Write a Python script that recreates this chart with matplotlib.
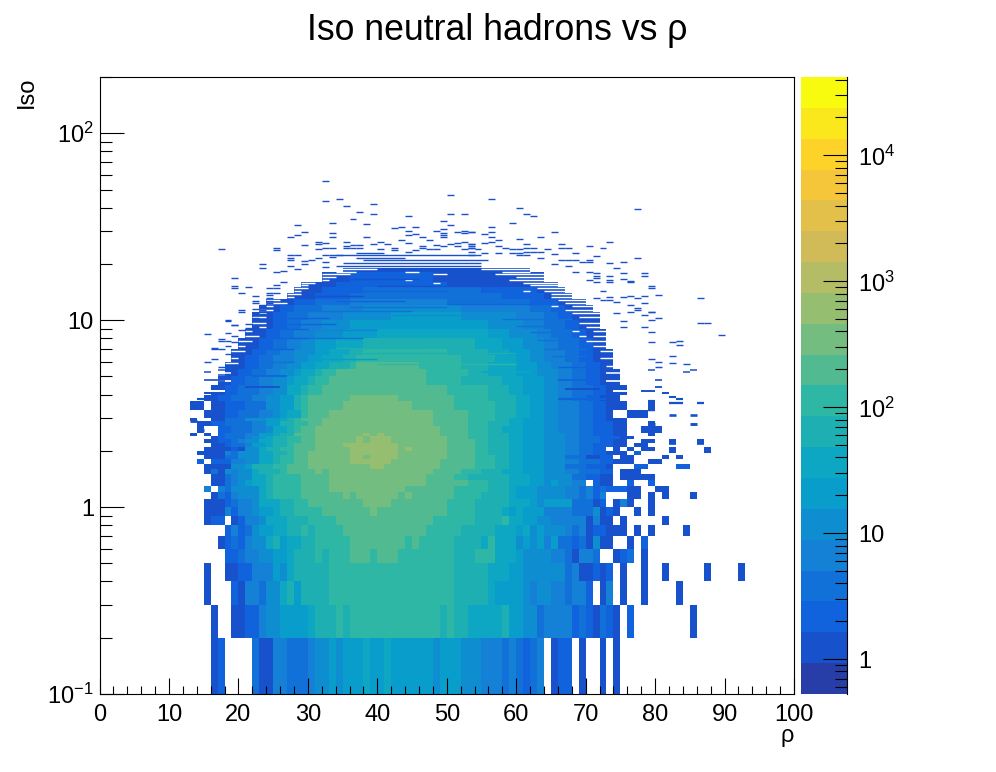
#!/usr/bin/env python
# -*- coding: utf-8 -*-

import numpy as np
import matplotlib
matplotlib.use("Agg")
import matplotlib.pyplot as plt
from matplotlib.colors import LinearSegmentedColormap, ListedColormap, LogNorm
from matplotlib.ticker import FixedLocator, NullFormatter

plt.rcParams['font.family'] = ['Liberation Sans', 'DejaVu Sans']
plt.rcParams['mathtext.fontset'] = 'custom'
plt.rcParams['mathtext.rm'] = 'Liberation Sans'
plt.rcParams['mathtext.default'] = 'rm'

# root bird palette
bird_red = [0.2082, 0.0592, 0.0780, 0.0232, 0.1802, 0.5301, 0.8186, 0.9956, 0.9764]
bird_green = [0.1664, 0.3599, 0.5041, 0.6419, 0.7178, 0.7492, 0.7328, 0.7862, 0.9832]
bird_blue = [0.5293, 0.8684, 0.8385, 0.7914, 0.6425, 0.4662, 0.3499, 0.1968, 0.0539]

z_min = 0.53
z_max = 41900
n_levels = 20

# lower edge of each row of bins, in Iso
iso_low = [0.1, 0.2, 0.3, 0.4, 0.5, 0.6, 0.7, 0.8, 0.9, 1.0, 1.1, 1.2, 1.3, 1.4, 1.5, 1.6,
           1.7, 1.8, 1.9, 2.0, 2.1, 2.2, 2.3, 2.4, 2.5, 2.7, 2.9, 3.0, 3.3, 3.7, 4.0, 4.5,
           5.0, 5.5, 6.0, 6.5, 7.0, 8.0, 9.0, 10, 11, 12, 13, 14, 15, 16, 18]
iso_top = 19

# first column, then colour level:end column (level 0 is an empty stretch)
rows = [
    "16 1:17 2:18 0:22 3:23 1:25 4:27 3:30 4:31 5:33 6:34 5:35 6:38 7:39 6:41 7:42 6:48 5:49 6:52 5:55 4:58 3:59 4:60 3:61 2:62 3:63 4:64 0:65 1:66 2:68 0:69 1:70 0:72 1:73 0:74 1:75",
    "16 1:17 0:19 1:21 2:23 4:24 5:26 6:30 7:31 8:34 9:35 8:36 9:49 8:50 9:51 8:53 7:58 8:59 6:61 5:63 3:64 4:68 2:69 3:70 2:71 1:72 3:73 2:74 1:75 0:76 2:77 0:85 1:86",
    "15 1:16 0:19 2:20 1:21 4:23 3:24 5:26 7:27 8:28 6:29 8:33 9:51 8:56 7:57 6:61 5:62 4:63 5:65 4:67 3:68 4:70 2:71 0:72 1:73 4:74 0:75 1:76 0:78 1:79 0:83 1:84",
    "15 1:16 0:18 1:20 2:22 4:25 6:26 5:27 7:28 8:33 9:51 8:56 7:59 6:61 5:67 3:68 4:69 1:71 2:72 1:73 2:74 0:75 1:76 0:78 1:79 0:81 1:82 0:87 1:88 0:92 1:93",
    "18 2:20 3:21 4:23 5:25 6:27 7:28 8:31 9:32 8:33 9:36 10:39 9:40 10:43 9:51 8:54 9:57 7:60 6:61 5:65 4:67 3:68 1:69 4:71 3:72 0:74 1:75 2:76 3:77 0:78 1:79",
    "17 1:18 2:19 3:20 2:21 4:22 5:24 7:25 8:26 6:27 7:29 8:31 9:36 10:44 9:45 10:46 9:51 8:55 7:56 9:57 7:60 5:61 6:62 5:63 6:64 4:65 6:66 3:68 2:69 3:70 1:71 5:72 1:74 0:76 1:77 0:78 2:79",
    "18 2:19 4:20 2:21 3:22 5:23 6:25 7:27 8:29 9:30 8:31 9:35 10:47 9:52 8:57 7:60 6:61 7:62 5:63 6:64 5:67 4:68 3:69 4:70 1:71 2:73 1:76 0:77 1:78 0:79 1:80 0:84 1:85",
    "15 1:16 2:18 0:19 1:20 2:21 4:23 5:24 7:27 8:30 9:34 10:48 9:54 8:58 9:59 7:61 6:63 5:65 4:70 1:71 4:72 1:74 0:75 1:76 0:81 1:82",
    "15 1:18 4:19 2:20 4:22 5:23 6:25 7:26 8:28 9:32 10:39 11:40 10:50 9:54 8:58 7:59 6:60 7:61 6:64 4:68 3:71 5:72 1:73 2:74 1:75 0:77 1:78 0:79 1:80",
    "15 1:18 2:19 3:20 4:22 5:23 7:26 8:28 9:30 10:38 11:42 10:50 9:54 8:59 7:62 6:63 5:64 6:68 3:71 1:72 2:73 0:74 1:75 4:76 1:77 0:79 1:80",
    "16 1:17 3:18 2:19 4:20 5:23 7:24 8:25 9:29 10:35 11:36 10:37 11:43 10:44 11:45 10:51 9:55 8:59 7:60 6:63 5:67 4:69 3:70 4:71 2:72 4:73 0:76 1:78 0:79 1:80 0:81 1:82 0:85 1:86",
    "15 4:16 0:17 4:18 3:19 5:23 7:24 8:25 9:29 10:33 11:44 10:51 9:56 8:59 7:60 6:63 5:67 4:69 3:70 4:71 2:72 3:73 2:76 1:78 0:80 1:82",
    "16 1:18 3:19 4:20 5:21 6:22 7:24 8:25 9:29 10:33 11:47 10:53 9:56 8:59 7:62 6:64 5:65 6:66 5:68 4:70 0:71 2:72 1:74 0:76 2:77 0:79 2:80",
    "16 1:18 3:19 4:20 5:22 7:24 8:25 9:29 10:33 11:47 10:51 9:53 8:59 7:62 6:64 5:68 3:70 2:72 1:74 0:75 1:80",
    "15 1:16 3:17 1:18 5:19 4:20 5:22 7:23 8:26 9:27 10:31 11:32 10:33 11:48 10:52 9:55 8:58 7:61 6:64 5:67 4:69 3:72 2:74 0:75 1:78",
    "15 1:19 5:21 6:22 8:25 9:27 10:30 11:39 12:41 11:49 10:54 9:57 8:59 7:61 6:64 5:67 3:70 2:73 1:74 0:77 2:79 0:83 2:85",
    "14 2:15 0:16 2:19 4:21 5:23 7:25 8:26 9:28 10:30 11:36 12:42 11:49 10:54 9:57 8:59 7:61 6:64 5:67 4:69 3:72 2:74 1:77 0:79 1:81",
    "15 1:18 3:20 5:23 7:25 8:26 9:28 10:30 11:36 12:38 11:39 12:43 11:50 10:54 9:57 8:59 7:61 6:64 5:67 3:70 1:72 2:74 0:75 1:77 0:81 1:82 0:83 1:84",
    "14 1:18 4:19 3:20 5:23 7:25 8:27 9:28 10:30 11:36 12:43 11:50 10:54 9:56 8:59 7:61 6:64 5:67 4:69 3:71 2:73 1:76 0:77 2:78",
    "15 1:19 2:20 1:21 5:23 7:24 8:26 9:28 10:31 11:36 12:43 11:44 12:45 11:50 10:54 9:56 8:59 7:61 6:64 5:67 4:69 3:71 2:73 0:74 1:75 0:76 1:77 0:78 1:80 0:82 1:83 0:87 1:88",
    "16 1:18 2:19 3:21 4:22 6:24 7:25 8:27 9:28 10:31 11:35 12:43 11:50 10:54 9:56 8:59 7:61 6:64 5:67 4:69 3:71 2:74 1:76 0:77 1:79",
    "15 1:17 2:19 3:20 4:21 5:23 7:25 8:27 9:29 10:31 11:37 12:38 11:39 12:42 11:50 10:54 9:56 8:59 7:61 6:64 5:67 4:69 3:72 2:74 1:76 0:78 1:80 0:82 1:83 0:86 1:87",
    "16 1:17 2:18 3:21 4:22 5:23 6:24 7:25 8:27 9:29 10:31 11:37 12:38 11:39 12:42 11:50 10:53 9:56 8:59 7:61 6:64 5:67 4:69 3:72 2:75 1:77",
    "13 1:14 0:15 1:16 0:17 2:18 3:21 4:23 6:25 7:26 8:28 10:31 11:38 12:39 11:40 12:41 11:49 10:53 9:56 8:59 7:61 6:64 5:67 4:69 3:71 2:74 1:76 0:79 1:80",
    "14 1:15 0:17 2:19 3:22 4:24 5:25 7:27 8:28 9:29 10:31 11:49 10:53 9:56 8:58 7:61 6:64 5:66 4:69 3:71 2:74 1:76 0:78 1:81",
    "14 1:16 2:18 3:22 4:24 6:26 8:28 9:30 10:32 11:48 10:53 9:56 8:59 7:61 6:64 5:66 4:69 3:71 2:74 1:76 0:79 1:80",
    "13 1:14 0:16 1:18 3:21 5:24 6:26 7:27 8:28 9:29 10:32 11:48 10:53 9:57 8:59 7:61 6:64 5:66 4:69 3:71 2:73 1:76",
    "15 1:18 2:20 3:23 4:25 5:26 6:27 7:29 9:30 10:33 11:48 10:53 9:57 8:60 7:62 6:64 5:66 4:69 3:71 2:73 1:74 0:76 1:79",
    "13 1:15 0:16 1:18 2:21 3:24 5:26 6:28 8:29 9:30 10:35 11:45 10:51 9:57 8:60 7:62 6:64 5:66 4:69 3:71 2:73 1:76 0:79 1:80",
    "15 1:17 2:19 3:22 4:24 5:26 6:28 8:29 9:30 10:36 11:43 10:51 9:56 8:60 7:62 6:64 5:66 4:68 3:70 2:72 1:75",
    "16 1:18 2:20 3:23 4:25 5:27 7:29 8:30 9:32 10:50 9:56 8:59 7:61 6:64 5:66 4:68 3:71 2:73 1:76",
    "17 1:19 2:21 3:23 4:25 5:27 6:28 7:30 8:31 9:33 10:47 9:52 8:58 7:61 6:64 5:66 4:68 3:70 2:72 1:75",
    "18 1:20 2:22 3:24 4:26 5:28 6:29 7:31 8:32 9:34 10:47 9:53 8:56 7:60 6:63 5:66 4:68 3:70 2:72 1:75",
    "18 1:21 2:23 3:25 4:27 5:29 6:31 7:33 8:36 9:37 10:46 9:52 8:56 7:60 6:63 5:65 4:68 3:70 2:72 1:74",
    "19 1:21 2:23 3:25 4:28 5:30 6:32 7:35 8:37 9:52 8:57 7:60 6:62 5:64 4:67 3:69 2:71 1:74",
    "19 1:22 2:24 3:26 4:28 5:31 6:33 7:36 8:38 9:50 8:56 7:59 6:62 5:64 4:67 3:69 2:71 1:74",
    "20 1:23 2:25 3:27 4:29 5:31 6:34 7:38 8:54 7:58 6:61 5:64 4:66 3:69 2:71 1:73",
    "21 1:24 2:26 3:28 4:31 5:35 6:40 7:56 6:59 5:63 4:65 3:68 2:70 1:73",
    "22 1:25 2:27 3:29 4:32 5:36 6:56 5:61 4:64 3:67 2:69 1:72",
    "22 1:25 2:27 3:30 4:35 5:42 6:52 5:60 4:64 3:66 2:68 1:72",
    "23 1:26 2:28 3:32 4:38 5:52 4:62 3:65 2:67 1:71",
    "24 1:28 2:31 3:36 4:50 3:62 2:66 1:70",
    "27 1:31 2:36 3:58 2:64 1:68",
    "28 1:32 2:38 3:55 2:63 1:67",
    "29 1:34 2:50 1:66",
    "32 1:36 2:48 1:64",
    "35 1:62",
]

# thin bins that differ from the row they sit in (level 0 is an empty bin)
thin_iso = [18.7, 18.7, 18.2, 18.2, 18.2, 17.6, 17.6, 17.6, 17, 17, 16.5, 16.5, 16.5, 15.9, 15.9, 15.9, 15.4, 15.4, 14.9, 14.9,
            14.4, 14.4, 14.4, 13.8, 13.8, 13.3, 13.3, 12.8, 12.8, 12.4, 12.4, 11.9, 11.9, 11.9, 11.4, 11.4, 10.9, 10.9, 10.4, 10.4,
            9.7, 9.7, 9.2, 9.2, 8.7, 8.7, 8.7, 8.2, 8.2, 8.2, 7.7, 7.7, 7.3, 7.3, 6.8, 6.8, 6.3, 6.3, 5.9, 5.7, 5.2, 5.2, 4.7, 4.7, 4.2, 4.2,
            9.5, 8.9, 8.4, 8.0, 7.1, 6.7, 6.2, 5.8, 5.3, 11.2, 10.6, 11.8, 12.6, 13.4, 14.3, 15.2, 16.6, 12.2, 10.1, 9.3, 8.6, 7.8, 7, 6.4, 5.6,
            4.8, 4.4, 5, 6, 7, 8, 9, 10.3, 4.3, 3.8]
thin_from = [34, 55, 34, 44, 58, 32, 48, 57, 32, 60, 32, 44, 59, 29, 48, 61, 29, 62, 28, 63,
             28, 61, 64, 27, 65, 27, 65, 24, 66, 24, 67, 24, 65, 68, 23, 67, 23, 68, 22, 69,
             22, 69, 23, 70, 21, 68, 71, 21, 69, 71, 20, 70, 20, 71, 19, 72, 19, 72, 18, 73, 18, 73, 17, 73, 16, 74,
             26, 30, 40, 28, 34, 38, 32, 40, 55, 30, 42, 36, 34, 30, 34, 40, 36, 50, 58, 60, 62, 63, 64, 65, 66,
             66, 21, 22, 23, 24, 24, 26, 27, 67, 66]
thin_to = [40, 62, 37, 46, 62, 36, 50, 64, 34, 64, 33, 45, 64, 31, 49, 66, 30, 66, 30, 67,
           29, 62, 67, 29, 68, 28, 68, 26, 70, 27, 70, 25, 66, 71, 25, 71, 24, 72, 24, 72,
           24, 72, 24, 72, 22, 69, 73, 23, 70, 73, 22, 73, 21, 74, 21, 74, 20, 74, 20, 75, 19, 75, 19, 76, 18, 76,
           34, 40, 55, 38, 46, 60, 40, 60, 62, 45, 60, 50, 44, 38, 50, 55, 46, 64, 68, 66, 68, 69, 70, 70, 70,
           71, 26, 27, 28, 28, 30, 30, 33, 72, 73]
thin_level = [0, 0, 0, 0, 0, 0, 0, 0, 0, 0, 0, 0, 0, 0, 0, 0, 0, 0, 0, 0,
              0, 0, 0, 0, 0, 0, 0, 0, 0, 0, 0, 0, 0, 0, 0, 0, 0, 0, 0, 0,
              0, 0, 0, 0, 0, 0, 0, 0, 0, 0, 0, 0, 0, 0, 0, 0, 0, 0, 0, 0, 0, 0, 0, 0, 0, 0,
              2, 4, 7, 3, 8, 8, 6, 9, 7, 3, 5, 3, 2, 1, 2, 1, 1, 2, 3, 3, 3, 3, 3, 3, 2,
              2, 1, 2, 3, 2, 2, 2, 2, 1, 2]

# dense streaks above the solid part: Iso, first and end column
streak_iso = [19.6, 20.3, 21, 21.6, 22.4, 23]
streak_from = [34, 35, 38, 37, 33, 37]
streak_to = [55, 55, 56, 44, 55, 41]

# single filled bins away from the core
dash_col = [32, 34, 32, 35, 39, 37, 39, 50, 44, 36, 33, 38, 28, 50, 52, 49, 50, 42, 43, 45, 49, 44, 48, 52, 51, 53, 29, 33, 49, 52,
            45, 44, 49, 28, 27, 38, 33, 46, 49, 43, 47, 31, 32, 35, 40, 44, 41, 29, 36, 37, 39, 48, 50, 52, 51, 53, 17, 25, 25, 31,
            33, 32, 31, 35, 35, 36, 37, 42, 42, 40, 45, 46, 46, 44, 47, 48, 49, 51, 52, 53, 54, 27, 27, 27, 28, 29, 32, 33, 34,
            23, 23, 25, 26, 27, 28, 29, 30, 31, 32, 32, 19, 19, 19, 21, 20, 22, 22, 22, 20, 20, 22, 22, 22, 22, 18, 19, 20, 21, 21,
            24, 24, 24, 24, 25, 25, 25, 26, 23, 23, 23, 23, 23, 24, 24,
            56, 60, 61, 62, 59, 77, 53, 56, 55, 56, 56, 65, 63, 60, 57, 53, 53, 53, 55, 56, 61, 66, 57, 70, 73, 72, 66, 67, 58, 59, 60,
            61, 62, 64, 53, 55, 57, 59, 60, 61, 62, 63, 65, 68, 53, 60, 61, 63, 71, 70, 66, 67, 68, 69, 70, 73, 75, 77, 65, 67, 74, 70,
            68, 75, 78, 78, 71, 71, 71, 73, 75, 73, 76, 71, 70, 73, 76, 79, 79, 72, 80, 76, 77, 78, 86, 75, 73, 71, 72, 73, 74, 76, 78,
            79, 79, 80, 77, 77, 78, 79, 86, 87, 78, 75, 75, 76, 74,
            89, 82, 83, 83, 82, 82, 84, 84, 85, 81, 82, 83, 82, 83, 86, 79, 79, 79, 80, 80, 79, 80, 80, 78, 79, 79, 82, 85, 79, 79, 85, 82, 86, 87, 82,
            18, 19, 15, 17, 17, 18, 19, 18, 19, 18, 16, 16, 17, 18, 15, 16, 17, 15, 17, 17, 15, 16, 17, 16, 15, 14, 15, 16, 13, 14, 16, 15, 13, 14, 15, 14]
dash_iso = [55.3, 44.7, 43.6, 41, 42, 38, 37.2, 47, 36.3, 34.7, 33.3, 32.9, 32.5, 37, 37, 34, 32.5, 31.3, 31.7, 31.7, 30.9, 30.1, 30.1, 30.1, 29.8, 29.8, 29.8, 29.4, 29.4, 29.4,
            29, 28.5, 28.7, 28.4, 28, 28, 27.7, 28, 27.7, 27, 27, 26.3, 26, 26.3, 26.3, 25.8, 25.5, 25.4, 25.4, 25.4, 25.7, 25.4, 25.7, 26.3, 26, 25.7, 23.9, 24.4, 23.6, 25.7,
            24.4, 24.4, 23.9, 25, 24.2, 24.2, 24.2, 24.4, 23.6, 23.9, 23.6, 25, 24.2, 23.3, 23.9, 23.9, 24.8, 24.8, 23.9, 24.4, 23.9, 22.2, 21.6, 21.1, 22.4, 20.8, 22.2, 21.9, 22.2,
            20.1, 19, 18.2, 18.3, 19.6, 18.9, 19.9, 21.1, 21.4, 20.6, 19.3, 16.9, 15.2, 14.8, 15, 13.9, 13.4, 12.6, 12.3, 11.4, 11.1, 11.5, 10.9, 10.6, 10.3, 10, 9.4, 8.9, 9.5, 9.1,
            14.8, 14, 13.7, 13.2, 15.5, 14.8, 14, 16, 12, 11.7, 11.4, 11.1, 10.8, 12.6, 12.3,
            44.7, 40, 37.2, 35.9, 33, 39.3, 29.8, 29.8, 29, 28, 31.7, 29.8, 28, 27.3, 27, 25.7, 25, 24.4, 25.8, 26.3, 25.7, 25.7, 25, 25, 26.3, 24.2, 24.4, 24.4, 24.2, 23.9, 23.9,
            24.2, 24.2, 23.9, 23.3, 23, 23, 23, 23, 23.3, 23.3, 23.3, 22.7, 23, 22.2, 22.2, 22.2, 21.5, 22, 21.1, 20.9, 20.9, 20.9, 20.6, 20.6, 20.3, 20.6, 21.4, 20, 19.5, 19, 18.2,
            18.2, 17.8, 17.8, 17.2, 17.8, 17.3, 16.9, 17.2, 16.6, 16.4, 16.3, 16, 16.4, 16, 16, 15.2, 14.9, 14.4, 13.6, 13.4, 13.2, 13.4, 13.1, 13.3, 13.3, 13.2, 12.9, 12.9, 12.5, 12, 12.3,
            11, 11, 10.3, 11.6, 11.3, 10.7, 10, 9.6, 9.6, 9.2, 9.9, 9.2, 11.1, 10.9,
            8.3, 7.6, 7.7, 7.4, 6.4, 5.9, 5.8, 5.3, 5.4, 4.1, 3.9, 3.8, 3.6, 3.6, 3.6, 6.2, 7.6, 8.6, 5.6, 6, 5.4, 4.8, 4.4, 4.2, 4.2, 3.7, 3.1, 3.1, 3.3, 2.8, 2.8, 2.2, 2.2, 2.0, 2.0,
            9.96, 9.4, 8.4, 7.9, 7.7, 8.5, 8.2, 7.7, 7.6, 7.3, 7.1, 7, 7, 6.6, 6, 6.2, 5.6, 5.3, 5.4, 5.1, 4.8, 4.8, 4.7, 4.4, 4.1, 3.8, 3.8, 3.8, 3.6, 3.4, 3.4, 3.1, 2.9, 2.8, 2.8, 2.6]

x_ticks = [0, 10, 20, 30, 40, 50, 60, 70, 80, 90, 100]
y_ticks = [0.1, 1, 10, 100]
y_tick_labels = [r'$10^{-1}$', '1', '10', r'$10^{2}$']
z_ticks = [1, 10, 100, 1000, 10000]
z_tick_labels = ['1', '10', r'$10^{2}$', r'$10^{3}$', r'$10^{4}$']


def parse_row(text):
    # turns one row of the list above into 100 bin contents
    out = np.full(100, np.nan)
    parts = text.split()
    pos = int(parts[0])
    for part in parts[1:]:
        level, end = part.split(':')
        level = int(level)
        end = int(end)
        if level > 0:
            out[pos:end] = z_min * (z_max / z_min) ** ((level + 0.5) / n_levels)
        pos = end
    return out


def minor_decades(first, last, top):
    vals = []
    for d in range(first, last):
        for m in range(2, 10):
            if m * 10.0 ** d <= top:
                vals.append(m * 10.0 ** d)
    return vals


def bin_width(iso):
    # a 0.1 wide bin on the log axis, never thinner than one pixel
    return np.maximum(1.0, 0.72 * 187 * 0.1 / (np.array(iso) * np.log(10)))


base = LinearSegmentedColormap.from_list(
    'bird', list(zip(np.linspace(0, 1, 9), zip(bird_red, bird_green, bird_blue))), N=255)
cmap = ListedColormap([base(int((i + 0.99) * 255 / n_levels)) for i in range(n_levels)])
norm = LogNorm(z_min, z_max)
single_bin = cmap(1)

grid = np.array([parse_row(r) for r in rows])
x_edges = np.arange(101)
y_edges = np.array(iso_low + [iso_top])

fig = plt.figure(figsize=(9.96, 7.72), dpi=100)
W, H = 996.0, 772.0
ax = fig.add_axes([99.5 / W, 1 - 694 / H, (794 - 99.5) / W, (694 - 77) / H])
mesh = ax.pcolormesh(x_edges, y_edges, grid, cmap=cmap, norm=norm, shading='flat', linewidth=0)

thin_colors = ['white' if lev == 0 else cmap(lev) for lev in thin_level]
ax.hlines(thin_iso, thin_from, thin_to, colors=thin_colors, linewidths=bin_width(thin_iso))

ax.hlines(streak_iso, streak_from, streak_to, color=single_bin, lw=1.0)

dash_col = np.array(dash_col)
ax.hlines(dash_iso, dash_col, dash_col + 1, color=single_bin, linewidths=bin_width(dash_iso))

ax.set_yscale('log')
ax.set_xlim(0, 100)
ax.set_ylim(0.1, 200)

ax.set_xticks(x_ticks)
ax.set_xticks(np.arange(0, 101, 2), minor=True)
ax.yaxis.set_major_locator(FixedLocator(y_ticks))
ax.yaxis.set_minor_locator(FixedLocator(minor_decades(-1, 3, 200)))
ax.yaxis.set_minor_formatter(NullFormatter())
ax.set_yticklabels(y_tick_labels)
ax.tick_params(axis='x', which='major', direction='in', length=11.5, width=0.8, labelsize=17, pad=7)
ax.tick_params(axis='x', which='minor', direction='in', length=5.8, width=0.8)
ax.tick_params(axis='y', which='major', direction='in', length=17.5, width=0.8, labelsize=17, pad=4)
ax.tick_params(axis='y', which='minor', direction='in', length=8.7, width=0.8)
for s in ax.spines.values():
    s.set_linewidth(0.8)

ax.set_xlabel('ρ', fontsize=17, labelpad=0)
ax.xaxis.set_label_coords(0.99, -0.05)
ax.set_ylabel('Iso', loc='top', fontsize=17, labelpad=7)

cax = fig.add_axes([801 / W, 1 - 694 / H, 46 / W, (694 - 77) / H])
cbar = fig.colorbar(mesh, cax=cax)
cbar.outline.set_visible(False)
cax.spines['right'].set_visible(True)
cax.spines['right'].set_linewidth(0.8)
cax.yaxis.set_major_locator(FixedLocator(z_ticks))
cax.yaxis.set_minor_locator(FixedLocator(minor_decades(-1, 5, z_max)[3:]))
cax.yaxis.set_minor_formatter(NullFormatter())
cax.set_yticklabels(z_tick_labels)
cax.tick_params(which='major', direction='in', length=17.5, width=0.8, labelsize=17, pad=8, right=True)
cax.tick_params(which='minor', direction='in', length=8.7, width=0.8, right=True)

fig.text(0.4995, 1 - 30 / H, 'Iso neutral hadrons vs ρ', ha='center', va='center', fontsize=25.7)

plt.savefig('out.png', dpi=100)
